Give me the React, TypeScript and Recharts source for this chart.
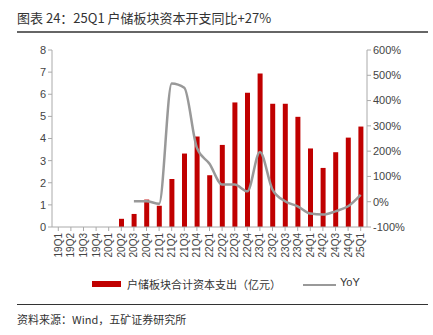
import React from 'react';
import { ComposedChart, Bar, Line, XAxis, YAxis } from 'recharts';

const quarters = ['19Q1','19Q2','19Q3','19Q4','20Q1','20Q2','20Q3','20Q4','21Q1','21Q2','21Q3','21Q4','22Q1','22Q2','22Q3','22Q4','23Q1','23Q2','23Q3','23Q4','24Q1','24Q2','24Q3','24Q4','25Q1'];
const capex = [0,0,0,0,0,0.37,0.59,1.24,0.96,2.17,3.32,4.09,2.34,3.71,5.63,6.07,6.94,5.57,5.57,4.98,3.55,2.67,3.38,4.04,4.54];
const yoy: (number | null)[] = [null,null,null,null,null,null,2,2,-8,468,451,213,150,68,68,41,197,48,2,-18,-47,-51,-38,-18,27];
const leftTicks = [0,1,2,3,4,5,6,7,8];
const rightTicks = [-100,0,100,200,300,400,500,600];

const data = quarters.map((q, i) => ({ q, capex: capex[i], yoy: yoy[i] }));

const FONT = '"Liberation Sans", "Noto Sans CJK SC", sans-serif';
const CJK = '"Noto Sans CJK SC", sans-serif';

const XTick = (props: any) => {
  const { x, y, payload } = props;
  return (
    <text x={x} y={y} transform={`rotate(-90, ${x}, ${y})`} textAnchor="end" dominantBaseline="central" fontSize={10} fill="#444" fontFamily={FONT}>
      {payload.value}
    </text>
  );
};

export default function App() {
  return (
    <div style={{ position: 'fixed', left: 0, top: 0, width: 433, height: 335, background: '#fff', fontFamily: CJK }}>
      <div style={{ position: 'absolute', left: 17, top: 8, fontSize: 13, color: '#333', whiteSpace: 'nowrap' }}>图表 24：25Q1 户储板块资本开支同比+27%</div>
      <div style={{ position: 'absolute', left: 17, top: 31, width: 411, height: 2, background: '#666' }} />
      <div style={{ position: 'absolute', left: 0, top: 0 }}>
        <ComposedChart width={433} height={335} data={data} margin={{ top: 50, right: 16, left: 0, bottom: 68 }}>
          <XAxis dataKey="q" interval={0} tick={<XTick />} height={40} stroke="#aaa" tickLine={{ stroke: '#aaa' }} tickSize={4} />
          <YAxis yAxisId="left" domain={[0, 8]} ticks={leftTicks} width={52} stroke="#aaa" tickSize={4} tick={{ fontSize: 11, fill: '#444', fontFamily: FONT }} />
          <YAxis yAxisId="right" orientation="right" domain={[-100, 600]} ticks={rightTicks} width={50} stroke="#aaa" tickSize={4} tickFormatter={(v: number) => `${v}%`} tick={{ fontSize: 11, fill: '#444', fontFamily: FONT }} />
          <Bar yAxisId="left" dataKey="capex" fill="#C00000" barSize={5} isAnimationActive={false} />
          <Line yAxisId="right" dataKey="yoy" type="monotone" stroke="#999" strokeWidth={2.5} dot={false} connectNulls={false} isAnimationActive={false} />
        </ComposedChart>
      </div>
      <div style={{ position: 'absolute', left: 92, top: 281, width: 29, height: 6, background: '#C00000' }} />
      <div style={{ position: 'absolute', left: 127, top: 276, fontSize: 11, color: '#333', whiteSpace: 'nowrap' }}>户储板块合计资本支出（亿元）</div>
      <div style={{ position: 'absolute', left: 303, top: 284, width: 33, height: 2, background: '#999' }} />
      <div style={{ position: 'absolute', left: 340, top: 276, fontSize: 11, color: '#333', fontFamily: FONT }}>YoY</div>
      <div style={{ position: 'absolute', left: 17, top: 304, width: 411, height: 1, background: '#333' }} />
      <div style={{ position: 'absolute', left: 17, top: 311, fontSize: 11, color: '#333', whiteSpace: 'nowrap' }}>资料来源：Wind，五矿证券研究所</div>
    </div>
  );
}
